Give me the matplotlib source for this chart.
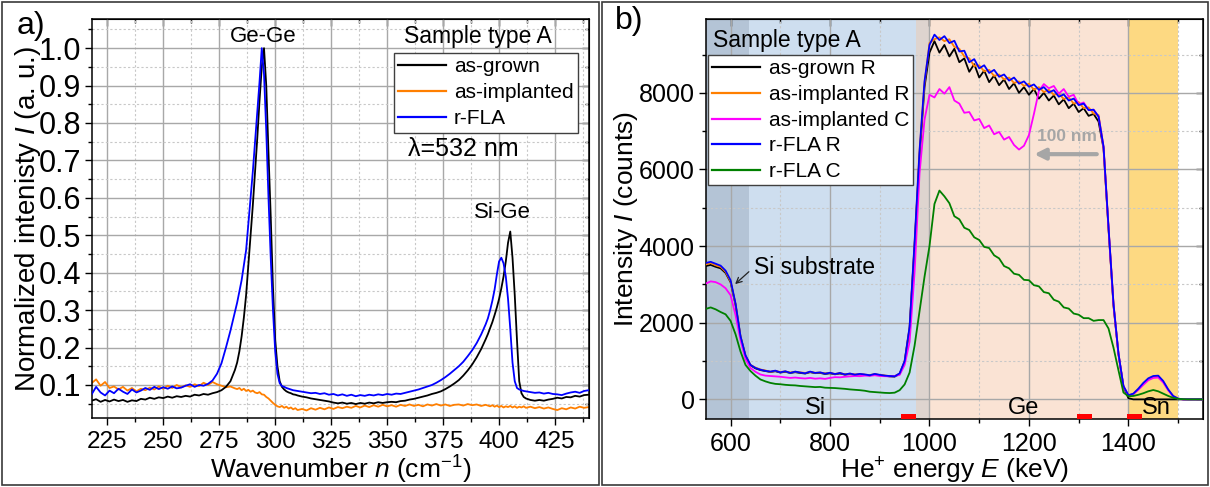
import numpy as np
import matplotlib
matplotlib.use("Agg")
import matplotlib.pyplot as plt
from matplotlib.ticker import MultipleLocator
from matplotlib.patches import Rectangle

plt.rcParams['font.family'] = ['Liberation Sans', 'DejaVu Sans']
plt.rcParams['mathtext.fontset'] = 'custom'
plt.rcParams['mathtext.rm'] = 'Liberation Sans'
plt.rcParams['mathtext.it'] = 'Liberation Sans:italic'

# ---------------- panel a: Raman spectra ----------------
wavenumber = np.concatenate([np.arange(218, 283, 2), np.arange(283, 310, 1),
                             np.arange(310, 395, 2), np.arange(395, 412, 1),
                             np.arange(412, 441, 2)])

raman_grown = [
    .058, .062, .055, .060, .056, .061, .057, .060, .055, .059,
    .057, .063, .061, .066, .063, .067, .065, .069, .066, .070,
    .068, .071, .069, .074, .072, .076, .074, .078, .081, .086,
    .095, .110, .140,
    .16, .19, .23, .28, .34, .42, .50, .58, .67, .76, .86, .95, 1.0, .90,
    .72, .55, .36, .22, .15, .11, .095, .088, .083, .080, .078, .075, .074,
    .072, .069, .067, .064, .062, .060, .058, .056, .053, .051,
    .053, .050, .052, .049, .052, .050, .053, .051, .054, .052,
    .054, .055, .054, .057, .058, .061, .063, .066, .069, .072,
    .076, .079, .083, .089, .096, .104, .113, .125, .139, .155,
    .174, .196, .222,
    .236, .252, .268, .287, .307, .330, .358, .390, .430, .480, .510, .440,
    .340, .220, .110, .078, .068,
    .064, .060, .058, .060, .058, .061, .063, .066, .064, .068, .067, .071,
    .069, .073, .074]

raman_implanted = [
    .105, .115, .098, .108, .092, .096, .088, .095, .085, .092,
    .083, .090, .086, .093, .088, .096, .090, .098, .092, .100,
    .094, .099, .095, .102, .097, .106, .100, .108, .102, .098,
    .094, .096, .091,
    .089, .092, .086, .090, .084, .087, .082, .085, .080, .078, .081, .075,
    .074, .068, .064, .058, .052, .047, .043, .041, .044, .039, .042, .037,
    .040, .035, .038,
    .033, .036, .032, .038, .034, .039, .035, .040, .036, .041,
    .038, .042, .039, .044, .040, .045, .041, .046, .042, .047,
    .043, .046, .042, .047, .044, .048, .044, .047, .043, .048,
    .045, .049, .045, .048, .044, .047, .048, .045, .049, .046,
    .048, .044, .047,
    .045, .043, .046, .042, .045, .041, .044, .040, .043, .041, .044, .040,
    .043, .039, .042, .040, .043,
    .039, .042, .038, .041, .037, .040, .036, .033, .038, .035, .040, .037,
    .042, .039, .041]

raman_rfla = [
    .075, .095, .080, .072, .085, .078, .090, .082, .076, .088,
    .080, .085, .092, .087, .095, .089, .094, .090, .096, .091,
    .093, .098, .102, .095, .100, .098, .103, .112, .130, .158,
    .200, .245, .295,
    .32, .35, .38, .42, .46, .53, .60, .67, .75, .83, .91, 1.0, .93, .78,
    .60, .44, .30, .19, .13, .105, .097, .095, .092, .090, .088, .086, .085,
    .084, .082, .080, .078, .079, .076, .078, .074, .076, .072,
    .075, .071, .074, .070, .073, .071, .074, .072, .075, .073,
    .076, .074, .077, .076, .079, .082, .085, .088, .092, .096,
    .100, .106, .113, .121, .130, .140, .150, .162, .177, .193,
    .212, .235, .262,
    .278, .300, .325, .355, .395, .430, .440, .425, .390, .330, .250, .160,
    .110, .092, .088, .086, .084,
    .083, .081, .079, .080, .077, .079, .076, .075, .073, .077, .080, .082,
    .079, .084, .086]

raman_labels = ['as-grown', 'as-implanted', 'r-FLA']
raman_colors = ['black', '#FF7F00', '#0000FF']

# ---------------- panel b: RBS spectra ----------------
energy = np.arange(550, 1551, 10)

rbs_grown_r = [
    3480, 3510, 3460, 3420, 3300, 3060, 2470, 1630, 1130, 890,
    810, 765, 740, 715, 735, 700, 720, 690, 710, 690,
    675, 710, 685, 690, 665, 680, 655, 675, 645, 660,
    640, 650, 640, 625, 650, 630, 615, 600, 595, 665,
    980, 1850, 4000, 6350, 8150, 9050, 9350, 9050, 9250, 8950,
    9150, 8800, 8900, 8550, 8750, 8400, 8580, 8280, 8450, 8200,
    8350, 8100, 8250, 8000, 8150, 7950, 8100, 7850, 8000, 7800,
    7930, 7700, 7830, 7600, 7720, 7500, 7600, 7400, 7450, 7250,
    6550, 4450, 2450, 1180, 330, 30, 0, 0, 0, 0,
    0, 0, 0, 0, 0, 0, 0, 0, 0, 0,
    0]

rbs_implanted_r = [
    3520, 3560, 3500, 3460, 3330, 3080, 2480, 1640, 1140, 900,
    830, 780, 755, 720, 745, 715, 730, 700, 720, 705,
    690, 715, 695, 700, 680, 690, 665, 685, 655, 670,
    650, 660, 645, 635, 660, 635, 625, 605, 605, 670,
    990, 1880, 4050, 6450, 8250, 9300, 9400, 9450, 9350, 9400,
    9200, 9150, 8950, 8900, 8700, 8720, 8560, 8600, 8440, 8480,
    8350, 8400, 8260, 8300, 8180, 8240, 8080, 8150, 8020, 8080,
    7950, 7980, 7840, 7880, 7720, 7760, 7600, 7620, 7460, 7420,
    6580, 4480, 2480, 1190, 340, 100, 140, 260, 400, 520,
    580, 590, 460, 250, 85, 20, 0, 0, 0, 0,
    0]

rbs_implanted_c = [
    3020, 3080, 3060, 3000, 2900, 2720, 2200, 1550, 1050, 820,
    720, 650, 620, 610, 600, 590, 575, 560, 570, 555,
    545, 560, 540, 550, 535, 560, 580, 575, 590, 600,
    610, 605, 620, 615, 630, 610, 605, 600, 610, 640,
    900, 1500, 3300, 5900, 7300, 7950, 7880, 8100, 7980, 8150,
    7800, 7720, 7480, 7500, 7280, 7320, 7080, 7150, 6920, 6980,
    6780, 6850, 6640, 6520, 6620, 6900, 7450, 8050, 8230, 8120,
    8180, 7980, 8100, 7900, 7950, 7700, 7750, 7550, 7560, 7380,
    6580, 4480, 2480, 1190, 340, 100, 140, 250, 380, 500,
    560, 570, 440, 240, 80, 15, 0, 0, 0, 0,
    0]

rbs_rfla_r = [
    3560, 3590, 3540, 3490, 3360, 3110, 2500, 1650, 1150, 900,
    820, 775, 745, 725, 750, 705, 735, 690, 725, 700,
    680, 725, 690, 705, 670, 695, 660, 690, 650, 675,
    645, 665, 650, 630, 665, 640, 620, 610, 600, 680,
    1000, 1900, 4100, 6500, 8300, 9250, 9520, 9380, 9480, 9300,
    9360, 9080, 9100, 8800, 8880, 8640, 8720, 8520, 8600, 8420,
    8480, 8320, 8400, 8240, 8300, 8160, 8220, 8080, 8150, 8010,
    8070, 7900, 7960, 7800, 7850, 7680, 7720, 7550, 7560, 7380,
    6600, 4500, 2500, 1200, 350, 110, 150, 280, 430, 550,
    610, 620, 480, 260, 90, 20, 0, 0, 0, 0,
    0]

rbs_rfla_c = [
    2360, 2400, 2350, 2280, 2220, 2050, 1700, 1250, 900, 740,
    620, 520, 470, 430, 405, 395, 380, 370, 365, 350,
    340, 330, 320, 325, 305, 300, 295, 285, 275, 260,
    250, 240, 225, 200, 190, 180, 170, 165, 175, 240,
    390, 700, 1400, 2300, 3200, 4000, 5100, 5450, 5300, 5120,
    4780, 4700, 4480, 4420, 4230, 4160, 3980, 3950, 3760, 3680,
    3480, 3420, 3280, 3250, 3120, 3110, 2980, 2950, 2800, 2770,
    2600, 2550, 2400, 2370, 2240, 2210, 2120, 2120, 2050, 2070,
    2070, 1850, 1350, 760, 180, 80, 90, 120, 160, 210,
    245, 210, 150, 90, 40, 15, 5, 0, 0, 0,
    0]

rbs_labels = ['as-grown R', 'as-implanted R', 'as-implanted C', 'r-FLA R', 'r-FLA C']
rbs_colors = ['black', '#FF7F00', '#FF00FF', '#0000FF', '#008000']

# shaded energy regions (start, end, colour)
region_start = [550, 638, 973, 1000, 1400]
region_end = [638, 973, 1000, 1400, 1500]
region_colors = ['#B4C4D6', '#CEDEEF', '#DED4CF', '#FAE3D4', '#FDD982']

# red surface markers at the bottom of panel b
marker_start = [943, 1296, 1397]
marker_width = 30

fig = plt.figure(figsize=(12.1, 4.87), dpi=100)

# panel frames
for x0, w in [(2, 597), (602, 606)]:
    fig.add_artist(Rectangle((x0 / 1210, 2 / 487), w / 1210, 483 / 487,
                             transform=fig.transFigure, fill=False,
                             ec='#3a3a3a', lw=1.2))


def style_axes(ax, xmaj, xmin, ymaj, ymin, size):
    ax.set_axisbelow(True)
    ax.xaxis.set_major_locator(MultipleLocator(xmaj))
    ax.xaxis.set_minor_locator(MultipleLocator(xmin))
    ax.yaxis.set_major_locator(MultipleLocator(ymaj))
    ax.yaxis.set_minor_locator(MultipleLocator(ymin))
    ax.grid(which='major', color='#A8A8A8', lw=1.0, ls='-')
    ax.grid(which='minor', color='#C8C8C8', lw=0.8, ls=(0, (2, 2)))
    ax.tick_params(which='major', direction='out', length=5, width=1.0)
    ax.tick_params(which='minor', direction='out', length=3, width=1.0)
    ax.tick_params(axis='x', labelsize=size[0], pad=4)
    ax.tick_params(axis='y', labelsize=size[1], pad=3)
    for s in ax.spines.values():
        s.set_linewidth(1.1)
    top = ax.secondary_xaxis('top')
    top.xaxis.set_major_locator(MultipleLocator(xmaj))
    top.xaxis.set_minor_locator(MultipleLocator(xmin))
    top.tick_params(which='major', direction='in', length=5, width=1.0, labeltop=False)
    top.tick_params(which='minor', direction='in', length=3, width=1.0)
    right = ax.secondary_yaxis('right')
    right.yaxis.set_major_locator(MultipleLocator(ymaj))
    right.yaxis.set_minor_locator(MultipleLocator(ymin))
    right.tick_params(which='major', direction='in', length=5, width=1.0, labelright=False)
    right.tick_params(which='minor', direction='in', length=3, width=1.0)


# ---------------- panel a ----------------
axa = fig.add_axes([92.3 / 1210, 1 - 418.3 / 487, 497 / 1210, 399 / 487])
axa.plot(wavenumber, raman_implanted, color=raman_colors[1], lw=1.3, zorder=2)
axa.plot(wavenumber, raman_grown, color=raman_colors[0], lw=1.3, zorder=3)
axa.plot(wavenumber, raman_rfla, color=raman_colors[2], lw=1.3, zorder=4)
axa.set_xlim(218.3, 440.3)
axa.set_ylim(0.011, 1.077)
style_axes(axa, 25, 12.5, 0.1, 0.05, (17.5, 22))
axa.set_xlabel('Wavenumber $n$ (cm$^{-1}$)', fontsize=19)
axa.set_ylabel('Normalized intenisty $I$ (a. u.)', fontsize=20)
axa.xaxis.set_label_coords(0.5, -0.088)
axa.yaxis.set_label_coords(-0.10, 0.5)

handles = [plt.Line2D([], [], color=c, lw=1.6) for c in raman_colors]
leg = axa.legend(handles, raman_labels, loc='upper right', bbox_to_anchor=(0.977, 0.9155),
                 borderaxespad=0, fontsize=15, fancybox=False, edgecolor='#404040',
                 framealpha=1, handlelength=2.3, handletextpad=0.4, labelspacing=0.34,
                 borderpad=0.2)
leg.get_frame().set_linewidth(1.0)
axa.text(0.775, 0.956, 'Sample type A', transform=axa.transAxes, fontsize=16.5,
         ha='center', va='center')
axa.text(0.635, 0.675, 'λ=532 nm', transform=axa.transAxes, fontsize=18,
         ha='left', va='center')
axa.text(294.5, 1.032, 'Ge-Ge', fontsize=16, ha='center', va='center')
axa.text(401.6, 0.56, 'Si-Ge', fontsize=16, ha='center', va='center')
fig.text(17 / 1210, 1 - 26 / 487, 'a)', fontsize=23, ha='left', va='center')

# ---------------- panel b ----------------
axb = fig.add_axes([705.7 / 1210, 1 - 419.3 / 487, 497.3 / 1210, 400 / 487])
for x0, x1, c in zip(region_start, region_end, region_colors):
    axb.axvspan(x0, x1, color=c, lw=0, zorder=0)
rbs_series = [rbs_grown_r, rbs_implanted_r, rbs_implanted_c, rbs_rfla_r, rbs_rfla_c]
for i, (y, c) in enumerate(zip(rbs_series, rbs_colors)):
    axb.plot(energy, y, color=c, lw=1.3, zorder=2 + i)
axb.set_xlim(550, 1550)
axb.set_ylim(-520, 9920)
style_axes(axb, 200, 100, 2000, 1000, (18, 18))
axb.set_xlabel('He$^{+}$ energy $E$ (keV)', fontsize=19)
axb.set_ylabel('Intensity $I$ (counts)', fontsize=19)
axb.xaxis.set_label_coords(0.5, -0.09)
axb.yaxis.set_label_coords(-0.132, 0.5)

for xs in marker_start:
    axb.add_patch(Rectangle((xs, -520), marker_width, 145, color='#FF0000',
                            lw=0, zorder=8, clip_on=False))

handles = [plt.Line2D([], [], color=c, lw=1.6) for c in rbs_colors]
leg = axb.legend(handles, rbs_labels, loc='upper left', bbox_to_anchor=(0.005, 0.91),
                 borderaxespad=0, fontsize=15, fancybox=False, edgecolor='#404040',
                 framealpha=1, handlelength=2.3, handletextpad=0.4, labelspacing=0.32,
                 borderpad=0.2)
leg.get_frame().set_linewidth(1.0)
leg.set_zorder(10)
axb.text(0.015, 0.948, 'Sample type A', transform=axb.transAxes, fontsize=16.5,
         ha='left', va='center')
axb.text(647, 3450, 'Si substrate', fontsize=16.5, ha='left', va='center')
axb.annotate('', xy=(605, 2960), xytext=(641, 3380),
             arrowprops=dict(arrowstyle='->', color='#222222', lw=0.9))
axb.text(770, -225, 'Si', fontsize=17, ha='center', va='center')
axb.text(1190, -225, 'Ge', fontsize=17, ha='center', va='center')
axb.text(1457, -225, 'Sn', fontsize=17, ha='center', va='center')
axb.text(1277, 6850, '100 nm', fontsize=12.5, fontweight='bold', color='#A6A6A6',
         ha='center', va='center')
axb.annotate('', xy=(1205, 6400), xytext=(1342, 6400),
             arrowprops=dict(arrowstyle='-|>', color='#A6A6A6', lw=3, mutation_scale=16))
fig.text(615 / 1210, 1 - 21 / 487, 'b)', fontsize=23, ha='left', va='center')

fig.savefig('out.png', dpi=100)
